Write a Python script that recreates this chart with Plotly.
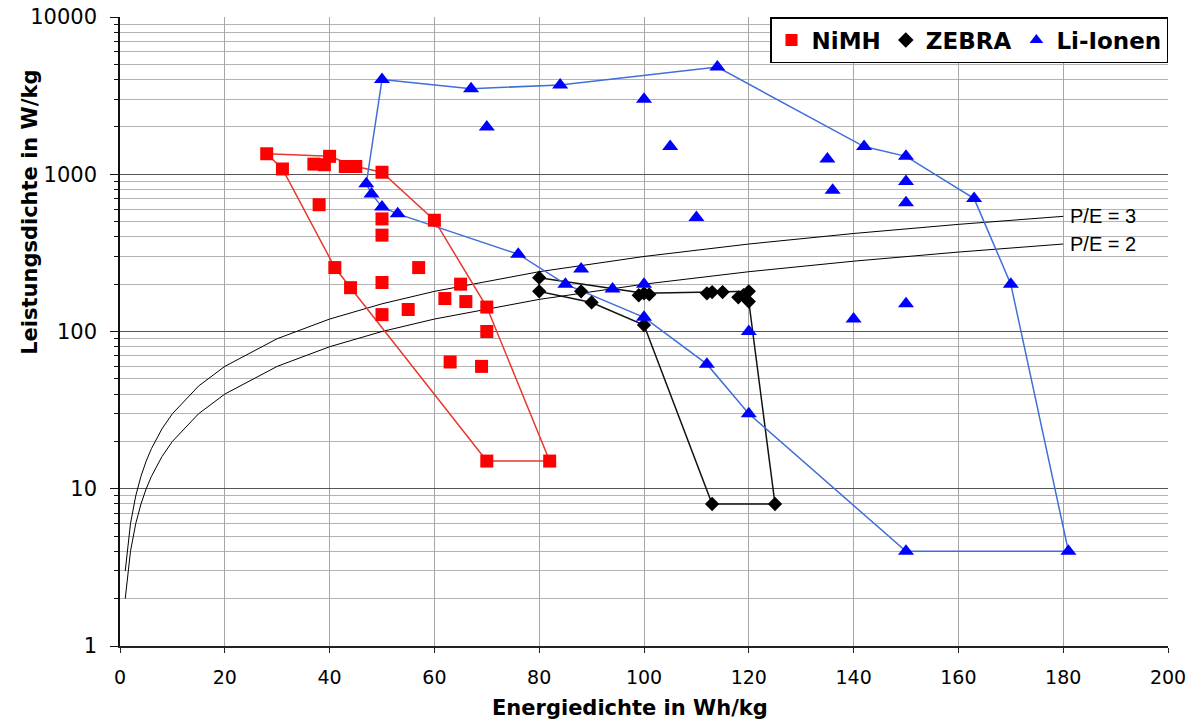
import math
import plotly.graph_objects as go

# ---------------- data ----------------
nimh_energy = [28, 31, 37, 39, 40, 43, 45, 50, 38, 50, 50, 60, 41, 57, 44, 50, 65, 62, 66, 70, 50, 55, 70, 63, 69, 70, 82]
nimh_power = [1350, 1080, 1160, 1150, 1300, 1120, 1120, 1030, 640, 520, 410, 510, 255, 255, 190, 205, 200, 162, 155, 143, 128, 138, 100, 64, 60, 15, 15]

nimh_hull_energy = [28, 40, 45, 50, 60, 70, 82, 70, 44, 41, 31, 28]
nimh_hull_power = [1350, 1300, 1120, 1030, 510, 143, 15, 15, 190, 255, 1080, 1350]

zebra_energy = [80, 80, 88, 90, 99, 100, 101, 100, 112, 113, 115, 118, 120, 120, 119, 113, 125]
zebra_power = [220, 180, 180, 153, 170, 175, 172, 110, 175, 178, 178, 165, 180, 155, 170, 8, 8]

zebra_hull_energy = [80, 100, 113, 120, 120, 125, 113, 100, 90, 80, 80]
zebra_hull_power = [220, 175, 178, 180, 155, 8, 8, 110, 153, 180, 220]

li_energy = [50, 67, 84, 100, 114, 70, 105, 110, 135, 136, 142, 150, 150, 150, 163, 170, 150, 140,
             181, 150, 120, 120, 112, 47, 48, 50, 53, 76, 88, 85, 94, 100, 100]
li_power = [4000, 3500, 3700, 3000, 4800, 2000, 1500, 530, 1250, 790, 1500, 1300, 900, 660, 700, 200, 150, 120,
            4, 4, 30, 100, 62, 870, 750, 620, 560, 310, 250, 200, 186, 200, 123]

li_hull_energy = [50, 67, 84, 114, 142, 150, 163, 170, 181, 150, 120, 112, 100, 85, 76, 53, 50, 48, 47, 50]
li_hull_power = [4000, 3500, 3700, 4800, 1500, 1300, 700, 200, 4, 4, 30, 62, 123, 200, 310, 560, 620, 750, 870, 4000]

pe_energy = [1, 2, 3, 4, 5, 6, 8, 10, 15, 20, 30, 40, 50, 60, 80, 100, 120, 140, 160, 180]
pe2_power = [2, 4, 6, 8, 10, 12, 16, 20, 30, 40, 60, 80, 100, 120, 160, 200, 240, 280, 320, 360]
pe3_power = [3, 6, 9, 12, 15, 18, 24, 30, 45, 60, 90, 120, 150, 180, 240, 300, 360, 420, 480, 540]

pe_labels = ["P/E = 3", "P/E = 2"]
x_ticks = [0, 20, 40, 60, 80, 100, 120, 140, 160, 180, 200]
y_ticks = [1, 10, 100, 1000, 10000]
y_minor = [m * d for d in (1, 10, 100, 1000) for m in range(2, 10)]

series_names = ["NiMH", "ZEBRA", "Li-Ionen"]

# ---------------- figure ----------------
fig = go.Figure()

# P/E guide curves
fig.add_trace(go.Scatter(x=pe_energy, y=pe3_power, mode="lines",
                         line=dict(color="black", width=1), showlegend=False, hoverinfo="skip"))
fig.add_trace(go.Scatter(x=pe_energy, y=pe2_power, mode="lines",
                         line=dict(color="black", width=1), showlegend=False, hoverinfo="skip"))

# hull outlines
fig.add_trace(go.Scatter(x=nimh_hull_energy, y=nimh_hull_power, mode="lines",
                         line=dict(color="#E8382E", width=1.5), showlegend=False, hoverinfo="skip"))
fig.add_trace(go.Scatter(x=zebra_hull_energy, y=zebra_hull_power, mode="lines",
                         line=dict(color="#111111", width=1.5), showlegend=False, hoverinfo="skip"))
fig.add_trace(go.Scatter(x=li_hull_energy, y=li_hull_power, mode="lines",
                         line=dict(color="#3F6FD8", width=1.5), showlegend=False, hoverinfo="skip"))

# markers
fig.add_trace(go.Scatter(x=nimh_energy, y=nimh_power, mode="markers", name=series_names[0],
                         marker=dict(symbol="square", size=13, color="#FF0000", line=dict(width=0))))
fig.add_trace(go.Scatter(x=zebra_energy, y=zebra_power, mode="markers", name=series_names[1],
                         marker=dict(symbol="diamond", size=11, color="#000000", line=dict(width=0))))
fig.add_trace(go.Scatter(x=li_energy, y=li_power, mode="markers", name=series_names[2],
                         marker=dict(symbol="triangle-up", size=14, color="#0000FF", line=dict(width=0))))

# P/E labels (log axis -> annotation y in log10 units)
for label, e, p in zip(pe_labels, [pe_energy[-1], pe_energy[-1]], [pe3_power[-1], pe2_power[-1]]):
    fig.add_annotation(x=e, y=math.log10(p), xref="x", yref="y", xshift=5,
                       text=label, showarrow=False, xanchor="left", yanchor="middle",
                       font=dict(family="Liberation Sans, Arial", size=20, color="black"))

# axis titles as annotations
fig.add_annotation(text="Energiedichte in Wh/kg", xref="paper", yref="paper",
                   x=0.4866, y=-0.0986, xanchor="center", yanchor="middle", showarrow=False,
                   font=dict(family="DejaVu Sans", size=21, color="black", weight="bold"))
fig.add_annotation(text="Leistungsdichte in W/kg", xref="paper", yref="paper",
                   x=-0.086, y=0.69, xanchor="center", yanchor="middle", showarrow=False,
                   textangle=-90,
                   font=dict(family="DejaVu Sans", size=21, color="black", weight="bold"))

fig.update_layout(
    width=1198, height=722,
    margin=dict(l=120, r=30, t=17, b=76, autoexpand=False),
    paper_bgcolor="white", plot_bgcolor="white",
    font=dict(family="DejaVu Sans", size=18, color="black"),
    showlegend=True,
    legend=dict(orientation="h", x=1.0, y=1.0, xanchor="right", yanchor="top",
                bgcolor="white", bordercolor="black", borderwidth=1.5,
                font=dict(family="DejaVu Sans", size=23, color="black", weight="bold"),
                itemsizing="constant", tracegroupgap=0),
    xaxis=dict(range=[0, 200], tickvals=x_ticks, ticktext=[str(v) for v in x_ticks],
               automargin=False,
               showgrid=True, gridcolor="#A6A6A6", gridwidth=1,
               showline=True, linecolor="#222222", linewidth=1.5,
               ticks="outside", ticklen=5, tickcolor="#222222",
               ticklabelstandoff=8, zeroline=False,
               tickfont=dict(family="DejaVu Sans", size=19, color="black")),
    yaxis=dict(type="log", range=[0, 4], tickvals=y_ticks, ticktext=[str(v) for v in y_ticks],
               automargin=False,
               showgrid=True, gridcolor="#555555", gridwidth=1.3,
               showline=True, linecolor="#111111", linewidth=1.5,
               ticks="outside", ticklen=8, tickcolor="#111111",
               ticklabelstandoff=9, zeroline=False,
               tickfont=dict(family="DejaVu Sans", size=21, color="black"),
               minor=dict(tickvals=y_minor, showgrid=True, gridcolor="#B4B4B4", gridwidth=1,
                          ticks="outside", ticklen=4, tickcolor="#111111")),
)

fig.write_html("out.html", config={"displayModeBar": False},
               post_script="document.body.style.margin='0px';")
